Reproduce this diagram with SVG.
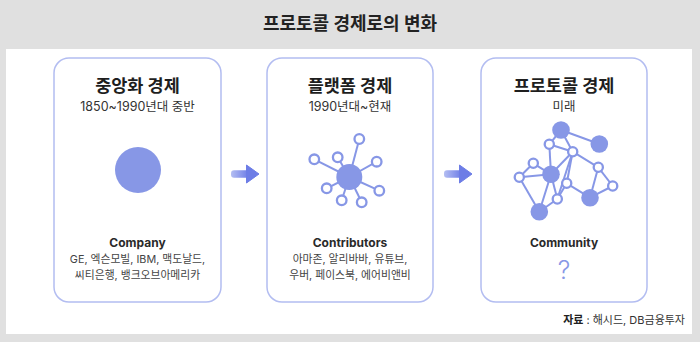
<svg xmlns="http://www.w3.org/2000/svg" width="700" height="342" viewBox="0 0 700 342">
<defs>
<style>
.kr{font-family:"Inter","Noto Sans CJK KR",sans-serif;}
.title{font-size:18px;font-weight:700;fill:#222;}
.h{font-size:17.5px;font-weight:700;fill:#1e1e1e;text-anchor:middle;}
.sub{font-size:12.5px;fill:#333;text-anchor:middle;}
.lbl{font-size:12px;font-weight:700;fill:#2a2a2a;text-anchor:middle;}
.lst{font-size:10.8px;fill:#444;text-anchor:middle;}
.card{fill:#fff;stroke:#b3bdf1;stroke-width:1.5;}
.big{fill:#8797e6;}
.ring{fill:#fff;stroke:#8797e6;stroke-width:2.3;}
.edge{stroke:#8797e6;stroke-width:2;fill:none;}
</style>
<linearGradient id="ag" x1="0" y1="0" x2="1" y2="0">
<stop offset="0" stop-color="#b4bef2"/>
<stop offset="1" stop-color="#6878e6"/>
</linearGradient>
<g id="arrowShape">
<rect x="0" y="-3.8" width="19" height="7.6" rx="3" fill="url(#ag)"/>
<path d="M15.5,-9 L28,0 L15.5,9 Z" fill="#6d7de6" stroke="#6d7de6" stroke-width="1" stroke-linejoin="round"/>
</g>
</defs>
<rect width="700" height="342" fill="#e0e0e0"/>
<rect x="6" y="49" width="686" height="285" fill="#fff"/>
<text class="kr title" x="350" y="30" text-anchor="middle">프로토콜 경제로의 변화</text>

<g id="card-centralized">
<rect class="card" x="54" y="58" width="167" height="244" rx="15"/>
<text class="kr h" x="137.5" y="92">중앙화 경제</text>
<text class="kr sub" x="137.5" y="111">1850~1990년대 중반</text>
<circle class="big" cx="138" cy="170" r="23"/>
<text class="kr lbl" x="137.5" y="247">Company</text>
<text class="kr lst" x="137.5" y="263">GE, 엑슨모빌, IBM, 맥도날드,</text>
<text class="kr lst" x="137.5" y="279">씨티은행, 뱅크오브아메리카</text>
</g>

<g id="card-platform">
<rect class="card" x="267" y="58" width="166" height="244" rx="15"/>
<text class="kr h" x="350" y="92">플랫폼 경제</text>
<text class="kr sub" x="350" y="111">1990년대~현재</text>
<g class="edge">
<line x1="349.3" y1="177" x2="359.3" y2="139"/>
<line x1="349.3" y1="177" x2="337.7" y2="157.3"/>
<line x1="349.3" y1="177" x2="314.3" y2="159.3"/>
<line x1="349.3" y1="177" x2="376.7" y2="161.7"/>
<line x1="349.3" y1="177" x2="326.7" y2="188.3"/>
<line x1="349.3" y1="177" x2="379.3" y2="190.7"/>
<line x1="349.3" y1="177" x2="341.7" y2="200.3"/>
<line x1="349.3" y1="177" x2="361.7" y2="202.3"/>
</g>
<circle class="big" cx="349.3" cy="177" r="13"/>
<circle class="ring" cx="359.3" cy="139" r="4.8"/>
<circle class="ring" cx="337.7" cy="157.3" r="4.8"/>
<circle class="ring" cx="314.3" cy="159.3" r="4.8"/>
<circle class="ring" cx="376.7" cy="161.7" r="4.8"/>
<circle class="ring" cx="326.7" cy="188.3" r="4.8"/>
<circle class="ring" cx="379.3" cy="190.7" r="4.8"/>
<circle class="ring" cx="341.7" cy="200.3" r="4.8"/>
<circle class="ring" cx="361.7" cy="202.3" r="4.8"/>
<text class="kr lbl" x="350" y="247">Contributors</text>
<text class="kr lst" x="350" y="263">아마존, 알리바바, 유튜브,</text>
<text class="kr lst" x="350" y="279">우버, 페이스북, 에어비앤비</text>
</g>

<g id="card-protocol">
<rect class="card" x="481" y="58" width="166" height="244" rx="15"/>
<text class="kr h" x="564" y="92">프로토콜 경제</text>
<text class="kr sub" x="564" y="111">미래</text>
<g class="edge">
<line x1="561" y1="130" x2="599.3" y2="144"/>
<line x1="561" y1="130" x2="549.3" y2="144.3"/>
<line x1="561" y1="130" x2="572.7" y2="151.7"/>
<line x1="549.3" y1="144.3" x2="572.7" y2="151.7"/>
<line x1="549.3" y1="144.3" x2="551" y2="174.3"/>
<line x1="572.7" y1="151.7" x2="551" y2="174.3"/>
<line x1="572.7" y1="151.7" x2="566.7" y2="183.3"/>
<line x1="572.7" y1="151.7" x2="557.3" y2="199"/>
<line x1="572.7" y1="151.7" x2="598.3" y2="167.3"/>
<line x1="533.3" y1="163.3" x2="551" y2="174.3"/>
<line x1="533.3" y1="163.3" x2="519.3" y2="177.3"/>
<line x1="519.3" y1="177.3" x2="551" y2="174.3"/>
<line x1="519.3" y1="177.3" x2="539.3" y2="211.7"/>
<line x1="551" y1="174.3" x2="539.3" y2="211.7"/>
<line x1="551" y1="174.3" x2="557.3" y2="199"/>
<line x1="566.7" y1="183.3" x2="557.3" y2="199"/>
<line x1="566.7" y1="183.3" x2="590" y2="197.7"/>
<line x1="557.3" y1="199" x2="539.3" y2="211.7"/>
<line x1="598.3" y1="167.3" x2="612.7" y2="186"/>
<line x1="598.3" y1="167.3" x2="590" y2="197.7"/>
<line x1="612.7" y1="186" x2="590" y2="197.7"/>
</g>
<circle class="big" cx="561" cy="130" r="8.8"/>
<circle class="big" cx="599.3" cy="144" r="8.8"/>
<circle class="big" cx="551" cy="174.3" r="8.8"/>
<circle class="big" cx="590" cy="197.7" r="8.8"/>
<circle class="big" cx="539.3" cy="211.7" r="8.8"/>
<circle class="ring" cx="549.3" cy="144.3" r="4.6"/>
<circle class="ring" cx="572.7" cy="151.7" r="4.6"/>
<circle class="ring" cx="533.3" cy="163.3" r="4.6"/>
<circle class="ring" cx="519.3" cy="177.3" r="4.6"/>
<circle class="ring" cx="598.3" cy="167.3" r="4.6"/>
<circle class="ring" cx="566.7" cy="183.3" r="4.6"/>
<circle class="ring" cx="612.7" cy="186" r="4.6"/>
<circle class="ring" cx="557.3" cy="199" r="4.6"/>
<text class="kr lbl" x="564" y="247">Community</text>
<text class="kr" x="564" y="279" text-anchor="middle" font-size="25" font-weight="300" fill="#8797e6">?</text>
</g>

<g id="connectors">
<use href="#arrowShape" x="231" y="174"/>
<use href="#arrowShape" x="444" y="174"/>
</g>

<text class="kr" x="685" y="324" text-anchor="end" font-size="11" fill="#333"><tspan font-weight="700" fill="#222">자료</tspan> : 해시드, DB금융투자</text>
</svg>
